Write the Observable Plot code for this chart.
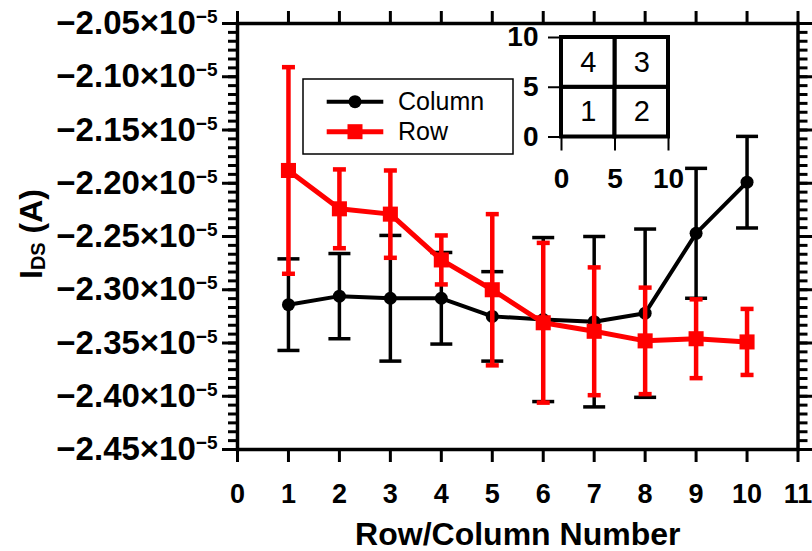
<!DOCTYPE html>
<html>
<head>
<meta charset="utf-8">
<script src="https://cdn.jsdelivr.net/npm/d3@7"></script>
<script src="https://cdn.jsdelivr.net/npm/@observablehq/plot@0.6"></script>
<style>
  html, body { margin: 0; padding: 0; background: #fff; }
  #chart { position: relative; width: 812px; height: 551px; font-family: "Liberation Sans", Arial, sans-serif; }
  #chart > svg { position: absolute; }
</style>
</head>
<body>
<div id="chart"></div>
<script>
// Drain current I_DS (mantissas in units of 1e-5 A) by row / column index: mean and ± spread
const SCALE = 1e-5;
const index = [1, 2, 3, 4, 5, 6, 7, 8, 9, 10];
const columnMean = [-2.314, -2.306, -2.308, -2.308, -2.325, -2.328, -2.330, -2.322, -2.247, -2.199];
const columnErr  = [0.043, 0.040, 0.059, 0.043, 0.042, 0.077, 0.080, 0.079, 0.061, 0.043];
const rowMean    = [-2.188, -2.224, -2.229, -2.272, -2.300, -2.331, -2.339, -2.348, -2.346, -2.349];
const rowErr     = [0.097, 0.037, 0.041, 0.023, 0.071, 0.075, 0.060, 0.050, 0.037, 0.031];

// Axis ticks
const xTicks = [0, 1, 2, 3, 4, 5, 6, 7, 8, 9, 10, 11];
const yTicks = [-2.05, -2.10, -2.15, -2.20, -2.25, -2.30, -2.35, -2.40, -2.45];
const yMinorPerMajor = 6;

// Inset: 2×2 quadrant map of the device
const insetTicks = [0, 5, 10];
const cellLabels = ["1", "2", "3", "4"];
const cellX = [0, 5, 5, 0];
const cellY = [0, 0, 5, 5];
const cellSize = 5;

const FONT = '"Liberation Sans", Arial, Helvetica, sans-serif';

const series = [
  {name: "Column", mean: columnMean, err: columnErr, color: "#000000", symbol: "circle", r: 6.5, lineWidth: 4, barWidth: 3.5, cap: 11},
  {name: "Row", mean: rowMean, err: rowErr, color: "#ff0000", symbol: "square", r: 8.5, lineWidth: 5, barWidth: 4.5, cap: 6.5}
];
const tableOf = (s) => index.map((x, i) => ({
  x,
  y: s.mean[i] * SCALE,
  lo: (s.mean[i] - s.err[i]) * SCALE,
  hi: (s.mean[i] + s.err[i]) * SCALE
}));

// horizontal bar used as an error-bar cap
const capSymbol = {
  draw(ctx, size) {
    const w = Math.sqrt(size / Math.PI);
    ctx.moveTo(-w, 0);
    ctx.lineTo(w, 0);
  }
};

const yMajor = yTicks.map((v) => v * SCALE);
const yMinor = d3.range(0, (yTicks.length - 1) * yMinorPerMajor + 1)
  .map((i) => (yTicks[yTicks.length - 1] + i * (0.05 / yMinorPerMajor)) * SCALE);

const yFormat = (d) => {
  const m = d / SCALE;
  return (m < 0 ? "−" : "") + Math.abs(m).toFixed(2) + "×10^−5";
};

const seriesMarks = series.flatMap((s) => {
  const data = tableOf(s);
  return [
    Plot.ruleX(data, {x: "x", y1: "lo", y2: "hi", stroke: s.color, strokeWidth: s.barWidth}),
    Plot.dot(data, {x: "x", y: "hi", symbol: capSymbol, r: s.cap, stroke: s.color, strokeWidth: s.barWidth, fill: "none"}),
    Plot.dot(data, {x: "x", y: "lo", symbol: capSymbol, r: s.cap, stroke: s.color, strokeWidth: s.barWidth, fill: "none"}),
    Plot.line(data, {x: "x", y: "y", stroke: s.color, strokeWidth: s.lineWidth}),
    Plot.dot(data, {x: "x", y: "y", symbol: s.symbol, r: s.r, fill: s.color, stroke: "none"})
  ];
});

const main = Plot.plot({
  width: 812,
  height: 551,
  marginLeft: 237,
  marginRight: 14.5,
  marginTop: 23,
  marginBottom: 102,
  style: {fontFamily: FONT, background: "transparent", color: "#000", overflow: "visible"},
  x: {domain: [0, 11]},
  y: {domain: [yMajor[yMajor.length - 1], yMajor[0]]},
  marks: [
    // left axis: minor + major ticks with labels
    Plot.axisY(yMinor, {anchor: "left", tickSize: 9, strokeWidth: 3, fill: "none", tickFormat: () => "", label: null}),
    Plot.axisY(yMajor, {anchor: "left", tickSize: 15, tickPadding: 5, strokeWidth: 3, tickFormat: yFormat, fontSize: 33, fontWeight: "bold", label: null}),
    // right axis mirrors the ticks without labels
    Plot.axisY(yMinor, {anchor: "right", tickSize: 9, strokeWidth: 3, fill: "none", tickFormat: () => "", label: null}),
    Plot.axisY(yMajor, {anchor: "right", tickSize: 14, strokeWidth: 3, fill: "none", tickFormat: () => "", label: null}),
    // bottom and top axes
    Plot.axisX(xTicks, {anchor: "bottom", tickSize: 13, tickPadding: 21, strokeWidth: 3, fontSize: 27, fontWeight: "bold", label: null}),
    Plot.axisX(xTicks, {anchor: "top", tickSize: 13, strokeWidth: 3, fill: "none", tickFormat: () => "", label: null}),
    Plot.frame({stroke: "#000", strokeWidth: 3.5}),
    ...seriesMarks,
    Plot.text(["Row/Column Number"], {text: (d) => d, frameAnchor: "bottom", dy: 95, lineAnchor: "bottom", fontSize: 32, fontWeight: "bold"}),
    Plot.text(["IDS (A)"], {text: (d) => d, frameAnchor: "left", dx: -196, dy: -2.5, rotate: -90, textAnchor: "middle", lineAnchor: "bottom", fontSize: 32, fontWeight: "bold"})
  ]
});
main.style.left = "0px";
main.style.top = "0px";

// scientific-notation exponents and the DS subscript
d3.select(main).selectAll("text").each(function () {
  const t = this.textContent;
  const sel = d3.select(this);
  const k = t.indexOf("^");
  if (k >= 0) {
    sel.text(null);
    sel.append("tspan").text(t.slice(0, k));
    sel.append("tspan").attr("dy", -11).attr("font-size", 19).text(t.slice(k + 1));
  } else if (t === "IDS (A)") {
    sel.text(null);
    sel.append("tspan").text("I");
    sel.append("tspan").attr("dy", 3).attr("font-size", 20).text("DS");
    sel.append("tspan").attr("dy", -3).text(" (A)");
  }
});

const cells = cellLabels.map((label, i) => ({label, x: cellX[i], y: cellY[i]}));
const inset = Plot.plot({
  width: 180,
  height: 200,
  marginLeft: 61,
  marginRight: 12,
  marginTop: 37,
  marginBottom: 63.5,
  style: {fontFamily: FONT, background: "transparent", color: "#000", overflow: "visible"},
  x: {domain: [0, 10]},
  y: {domain: [0, 10]},
  marks: [
    Plot.rect(cells, {x1: "x", x2: (d) => d.x + cellSize, y1: "y", y2: (d) => d.y + cellSize, fill: "white", stroke: "#000", strokeWidth: 4}),
    Plot.text(cells, {x: (d) => d.x + cellSize / 2, y: (d) => d.y + cellSize / 2, text: "label", fontSize: 29}),
    Plot.axisX(insetTicks, {anchor: "bottom", tickSize: 14, tickPadding: 17.5, strokeWidth: 2, fontSize: 28, fontWeight: "bold", label: null}),
    Plot.axisY(insetTicks, {anchor: "left", tickSize: 13, tickPadding: 10, strokeWidth: 2, fontSize: 28, fontWeight: "bold", label: null})
  ]
});
inset.style.left = "500px";
inset.style.top = "0px";

// legend
const legend = d3.create("svg")
  .attr("width", 215)
  .attr("height", 80)
  .style("left", "301px")
  .style("top", "77px")
  .style("font-family", FONT);
legend.append("rect")
  .attr("x", 2).attr("y", 2).attr("width", 210).attr("height", 75)
  .attr("fill", "white").attr("stroke", "#000").attr("stroke-width", 1.5);
series.forEach((s, i) => {
  const cy = 24.7 + i * 30;
  const g = legend.append("g");
  g.append("line")
    .attr("x1", 25.7).attr("x2", 82.3).attr("y1", cy).attr("y2", cy)
    .attr("stroke", s.color).attr("stroke-width", s.lineWidth);
  if (s.symbol === "circle") {
    g.append("circle").attr("cx", 54).attr("cy", cy).attr("r", s.r).attr("fill", s.color);
  } else {
    g.append("rect").attr("x", 54 - 7.5).attr("y", cy - 7.5).attr("width", 15).attr("height", 15).attr("fill", s.color);
  }
  g.append("text")
    .attr("x", 97).attr("y", cy).attr("dy", "0.35em")
    .attr("font-size", 25).attr("fill", "#000")
    .text(s.name);
});

const chart = document.getElementById("chart");
chart.append(main, legend.node(), inset);
</script>
</body>
</html>
